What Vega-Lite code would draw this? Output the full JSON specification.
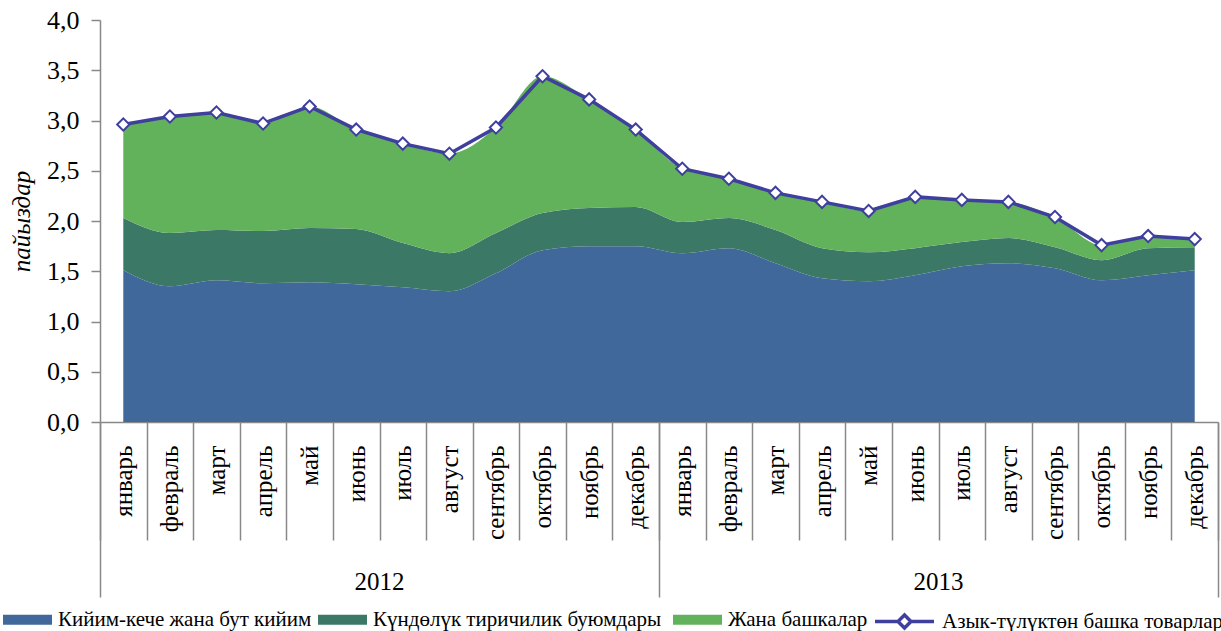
{
  "$schema": "https://vega.github.io/schema/vega-lite/v6.json",
  "width": 1118,
  "height": 402,
  "autosize": {"type": "none"},
  "padding": {"left": 100, "top": 20, "right": 3, "bottom": 209},
  "background": "white",
  "config": {"view": {"stroke": null}},
  "datasets": {
    "main": [
      {"m":"2012|январь","s":"Кийим-кече жана бут кийим","o":1,"v":1.51},
      {"m":"2012|февраль","s":"Кийим-кече жана бут кийим","o":1,"v":1.35},
      {"m":"2012|март","s":"Кийим-кече жана бут кийим","o":1,"v":1.41},
      {"m":"2012|апрель","s":"Кийим-кече жана бут кийим","o":1,"v":1.38},
      {"m":"2012|май","s":"Кийим-кече жана бут кийим","o":1,"v":1.39},
      {"m":"2012|июнь","s":"Кийим-кече жана бут кийим","o":1,"v":1.37},
      {"m":"2012|июль","s":"Кийим-кече жана бут кийим","o":1,"v":1.34},
      {"m":"2012|август","s":"Кийим-кече жана бут кийим","o":1,"v":1.30},
      {"m":"2012|сентябрь","s":"Кийим-кече жана бут кийим","o":1,"v":1.48},
      {"m":"2012|октябрь","s":"Кийим-кече жана бут кийим","o":1,"v":1.71},
      {"m":"2012|ноябрь","s":"Кийим-кече жана бут кийим","o":1,"v":1.75},
      {"m":"2012|декабрь","s":"Кийим-кече жана бут кийим","o":1,"v":1.75},
      {"m":"2013|январь","s":"Кийим-кече жана бут кийим","o":1,"v":1.68},
      {"m":"2013|февраль","s":"Кийим-кече жана бут кийим","o":1,"v":1.73},
      {"m":"2013|март","s":"Кийим-кече жана бут кийим","o":1,"v":1.58},
      {"m":"2013|апрель","s":"Кийим-кече жана бут кийим","o":1,"v":1.43},
      {"m":"2013|май","s":"Кийим-кече жана бут кийим","o":1,"v":1.40},
      {"m":"2013|июнь","s":"Кийим-кече жана бут кийим","o":1,"v":1.46},
      {"m":"2013|июль","s":"Кийим-кече жана бут кийим","o":1,"v":1.55},
      {"m":"2013|август","s":"Кийим-кече жана бут кийим","o":1,"v":1.58},
      {"m":"2013|сентябрь","s":"Кийим-кече жана бут кийим","o":1,"v":1.53},
      {"m":"2013|октябрь","s":"Кийим-кече жана бут кийим","o":1,"v":1.41},
      {"m":"2013|ноябрь","s":"Кийим-кече жана бут кийим","o":1,"v":1.46},
      {"m":"2013|декабрь","s":"Кийим-кече жана бут кийим","o":1,"v":1.51},
      {"m":"2012|январь","s":"Күндөлүк тиричилик  буюмдары","o":2,"v":0.52},
      {"m":"2012|февраль","s":"Күндөлүк тиричилик  буюмдары","o":2,"v":0.53},
      {"m":"2012|март","s":"Күндөлүк тиричилик  буюмдары","o":2,"v":0.50},
      {"m":"2012|апрель","s":"Күндөлүк тиричилик  буюмдары","o":2,"v":0.52},
      {"m":"2012|май","s":"Күндөлүк тиричилик  буюмдары","o":2,"v":0.54},
      {"m":"2012|июнь","s":"Күндөлүк тиричилик  буюмдары","o":2,"v":0.55},
      {"m":"2012|июль","s":"Күндөлүк тиричилик  буюмдары","o":2,"v":0.44},
      {"m":"2012|август","s":"Күндөлүк тиричилик  буюмдары","o":2,"v":0.38},
      {"m":"2012|сентябрь","s":"Күндөлүк тиричилик  буюмдары","o":2,"v":0.40},
      {"m":"2012|октябрь","s":"Күндөлүк тиричилик  буюмдары","o":2,"v":0.37},
      {"m":"2012|ноябрь","s":"Күндөлүк тиричилик  буюмдары","o":2,"v":0.38},
      {"m":"2012|декабрь","s":"Күндөлүк тиричилик  буюмдары","o":2,"v":0.39},
      {"m":"2013|январь","s":"Күндөлүк тиричилик  буюмдары","o":2,"v":0.31},
      {"m":"2013|февраль","s":"Күндөлүк тиричилик  буюмдары","o":2,"v":0.30},
      {"m":"2013|март","s":"Күндөлүк тиричилик  буюмдары","o":2,"v":0.33},
      {"m":"2013|апрель","s":"Күндөлүк тиричилик  буюмдары","o":2,"v":0.30},
      {"m":"2013|май","s":"Күндөлүк тиричилик  буюмдары","o":2,"v":0.29},
      {"m":"2013|июнь","s":"Күндөлүк тиричилик  буюмдары","o":2,"v":0.27},
      {"m":"2013|июль","s":"Күндөлүк тиричилик  буюмдары","o":2,"v":0.24},
      {"m":"2013|август","s":"Күндөлүк тиричилик  буюмдары","o":2,"v":0.25},
      {"m":"2013|сентябрь","s":"Күндөлүк тиричилик  буюмдары","o":2,"v":0.21},
      {"m":"2013|октябрь","s":"Күндөлүк тиричилик  буюмдары","o":2,"v":0.20},
      {"m":"2013|ноябрь","s":"Күндөлүк тиричилик  буюмдары","o":2,"v":0.27},
      {"m":"2013|декабрь","s":"Күндөлүк тиричилик  буюмдары","o":2,"v":0.23},
      {"m":"2012|январь","s":"Жана башкалар","o":3,"v":0.93},
      {"m":"2012|февраль","s":"Жана башкалар","o":3,"v":1.16},
      {"m":"2012|март","s":"Жана башкалар","o":3,"v":1.17},
      {"m":"2012|апрель","s":"Жана башкалар","o":3,"v":1.07},
      {"m":"2012|май","s":"Жана башкалар","o":3,"v":1.21},
      {"m":"2012|июнь","s":"Жана башкалар","o":3,"v":0.99},
      {"m":"2012|июль","s":"Жана башкалар","o":3,"v":0.99},
      {"m":"2012|август","s":"Жана башкалар","o":3,"v":0.99},
      {"m":"2012|сентябрь","s":"Жана башкалар","o":3,"v":1.05},
      {"m":"2012|октябрь","s":"Жана башкалар","o":3,"v":1.36},
      {"m":"2012|ноябрь","s":"Жана башкалар","o":3,"v":1.08},
      {"m":"2012|декабрь","s":"Жана башкалар","o":3,"v":0.77},
      {"m":"2013|январь","s":"Жана башкалар","o":3,"v":0.53},
      {"m":"2013|февраль","s":"Жана башкалар","o":3,"v":0.39},
      {"m":"2013|март","s":"Жана башкалар","o":3,"v":0.37},
      {"m":"2013|апрель","s":"Жана башкалар","o":3,"v":0.46},
      {"m":"2013|май","s":"Жана башкалар","o":3,"v":0.41},
      {"m":"2013|июнь","s":"Жана башкалар","o":3,"v":0.51},
      {"m":"2013|июль","s":"Жана башкалар","o":3,"v":0.42},
      {"m":"2013|август","s":"Жана башкалар","o":3,"v":0.36},
      {"m":"2013|сентябрь","s":"Жана башкалар","o":3,"v":0.30},
      {"m":"2013|октябрь","s":"Жана башкалар","o":3,"v":0.15},
      {"m":"2013|ноябрь","s":"Жана башкалар","o":3,"v":0.12},
      {"m":"2013|декабрь","s":"Жана башкалар","o":3,"v":0.08},
      {"m":"2012|январь","s":"Азык-түлүктөн башка товарлар","o":4,"v":2.96},
      {"m":"2012|февраль","s":"Азык-түлүктөн башка товарлар","o":4,"v":3.04},
      {"m":"2012|март","s":"Азык-түлүктөн башка товарлар","o":4,"v":3.08},
      {"m":"2012|апрель","s":"Азык-түлүктөн башка товарлар","o":4,"v":2.97},
      {"m":"2012|май","s":"Азык-түлүктөн башка товарлар","o":4,"v":3.14},
      {"m":"2012|июнь","s":"Азык-түлүктөн башка товарлар","o":4,"v":2.91},
      {"m":"2012|июль","s":"Азык-түлүктөн башка товарлар","o":4,"v":2.77},
      {"m":"2012|август","s":"Азык-түлүктөн башка товарлар","o":4,"v":2.67},
      {"m":"2012|сентябрь","s":"Азык-түлүктөн башка товарлар","o":4,"v":2.93},
      {"m":"2012|октябрь","s":"Азык-түлүктөн башка товарлар","o":4,"v":3.44},
      {"m":"2012|ноябрь","s":"Азык-түлүктөн башка товарлар","o":4,"v":3.21},
      {"m":"2012|декабрь","s":"Азык-түлүктөн башка товарлар","o":4,"v":2.91},
      {"m":"2013|январь","s":"Азык-түлүктөн башка товарлар","o":4,"v":2.52},
      {"m":"2013|февраль","s":"Азык-түлүктөн башка товарлар","o":4,"v":2.42},
      {"m":"2013|март","s":"Азык-түлүктөн башка товарлар","o":4,"v":2.28},
      {"m":"2013|апрель","s":"Азык-түлүктөн башка товарлар","o":4,"v":2.19},
      {"m":"2013|май","s":"Азык-түлүктөн башка товарлар","o":4,"v":2.10},
      {"m":"2013|июнь","s":"Азык-түлүктөн башка товарлар","o":4,"v":2.24},
      {"m":"2013|июль","s":"Азык-түлүктөн башка товарлар","o":4,"v":2.21},
      {"m":"2013|август","s":"Азык-түлүктөн башка товарлар","o":4,"v":2.19},
      {"m":"2013|сентябрь","s":"Азык-түлүктөн башка товарлар","o":4,"v":2.04},
      {"m":"2013|октябрь","s":"Азык-түлүктөн башка товарлар","o":4,"v":1.76},
      {"m":"2013|ноябрь","s":"Азык-түлүктөн башка товарлар","o":4,"v":1.85},
      {"m":"2013|декабрь","s":"Азык-түлүктөн башка товарлар","o":4,"v":1.82}
    ]
  },
  "data": {"name": "main"},
  "encoding": {
    "y": {
      "field": "v", "type": "quantitative",
      "scale": {"domain": [0, 4], "nice": false, "zero": true},
      "axis": {
        "values": [0, 0.5, 1, 1.5, 2, 2.5, 3, 3.5, 4],
        "labelExpr": "replace(format(datum.value, '.1f'), '.', ',')",
        "grid": false, "tickSize": 9, "tickColor": "#888888", "tickWidth": 1.5,
        "domainColor": "#888888", "domainWidth": 1.5,
        "labelFont": "Liberation Serif", "labelFontSize": 26, "labelColor": "black", "labelPadding": 12,
        "title": "пайыздар", "titleFont": "Liberation Serif", "titleFontStyle": "italic",
        "titleFontWeight": "normal", "titleFontSize": 25, "titleColor": "black", "titlePadding": 12
      }
    }
  },
  "resolve": {"axis": {"x": "independent"}},
  "layer": [
    {
      "transform": [{"filter": "datum.o < 4"}],
      "mark": {"type": "area", "interpolate": "monotone", "opacity": 1},
      "encoding": {
        "x": {
          "field": "m", "type": "nominal", "sort": null,
          "scale": {"type": "band", "paddingInner": 0, "paddingOuter": 0},
          "axis": {
            "orient": "bottom", "title": null, "grid": false,
            "labelExpr": "split(datum.value, '|')[1]",
            "labelAngle": -90, "labelOverlap": false,
            "tickBand": "extent", "tickSize": 118, "tickColor": "#888888", "tickWidth": 1.5,
            "domainColor": "#888888", "domainWidth": 1.5,
            "labelFont": "Liberation Serif", "labelFontSize": 25, "labelColor": "black",
            "labelPadding": -95
          }
        },
        "y": {"field": "v", "type": "quantitative", "stack": "zero"},
        "order": {"field": "o", "type": "quantitative"},
        "color": {
          "field": "s", "type": "nominal",
          "scale": {
            "domain": ["Кийим-кече жана бут кийим", "Күндөлүк тиричилик  буюмдары", "Жана башкалар"],
            "range": ["#40689A", "#3B7866", "#62B25C"]
          },
          "legend": {
            "orient": "none", "legendX": -97, "legendY": 575,
            "direction": "horizontal", "columns": 3, "title": null,
            "labelFont": "Liberation Serif", "labelFontSize": 21, "labelColor": "black",
            "labelLimit": 600, "labelOffset": 6, "columnPadding": 6, "symbolSize": 2401,
            "symbolType": "M-1,-0.2H1V0.2H-1Z", "symbolStrokeWidth": 0, "symbolOpacity": 1
          }
        }
      }
    },
    {
      "transform": [{"filter": "datum.o == 4"}],
      "mark": {"type": "line", "color": "#3F3F9E", "strokeWidth": 3.5},
      "encoding": {
        "x": {
          "field": "m", "type": "nominal", "sort": null,
          "axis": {
            "orient": "bottom", "title": null, "grid": false, "labels": false, "domain": false,
            "values": ["2012|январь", "2013|январь"], "bandPosition": 0,
            "tickSize": 175, "tickColor": "#888888", "tickWidth": 1.5
          }
        }
      }
    },
    {
      "transform": [{"filter": "datum.o == 4"}],
      "mark": {"type": "point", "shape": "diamond", "filled": true, "fill": "white", "stroke": "#3F3F9E", "strokeWidth": 2, "size": 150, "opacity": 1},
      "encoding": {
        "x": {
          "field": "m", "type": "nominal", "sort": null,
          "axis": {
            "orient": "bottom", "title": null, "grid": false, "labels": false, "domain": false,
            "values": ["2013|декабрь"], "bandPosition": 1,
            "tickSize": 175, "tickColor": "#888888", "tickWidth": 1.5
          }
        }
      }
    },
    {
      "transform": [{"filter": "datum.o == 4"}],
      "mark": {"type": "point", "opacity": 0, "filled": false},
      "encoding": {
        "x": {
          "field": "m", "type": "nominal", "sort": null,
          "axis": {
            "orient": "bottom", "title": null, "grid": false, "ticks": false, "domain": false,
            "values": ["2012|июнь", "2013|июнь"], "labelExpr": "slice(datum.value, 0, 4)",
            "labelAngle": 0, "labelOffset": 23.3, "labelPadding": 147,
            "labelFont": "Liberation Serif", "labelFontSize": 25, "labelColor": "black"
          }
        },
        "shape": {
          "field": "s", "type": "nominal",
          "scale": {
            "domain": ["Азык-түлүктөн башка товарлар"],
            "range": ["M-1,0H-0.22M0.22,0H1M0,-0.22L0.22,0L0,0.22L-0.22,0Z"]
          },
          "legend": {
            "orient": "none", "legendX": 773, "legendY": 570, "title": null,
            "labelFont": "Liberation Serif", "labelFontSize": 21, "labelColor": "black",
            "labelLimit": 600, "labelOffset": 6, "symbolSize": 3481,
            "symbolFillColor": "white", "symbolStrokeColor": "#3F3F9E", "symbolStrokeWidth": 3.5,
            "symbolOpacity": 1
          }
        }
      }
    }
  ]
}
